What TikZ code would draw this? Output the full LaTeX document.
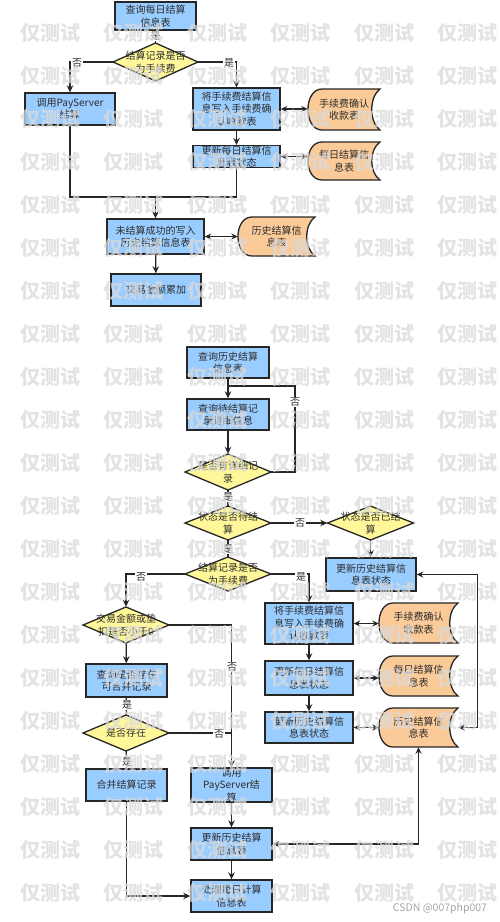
\documentclass[tikz,border=0pt]{standalone}
\usepackage{fontspec}
\setmainfont{Noto Sans CJK SC}
\usetikzlibrary{arrows.meta}
\definecolor{boxblue}{RGB}{153,204,255}
\definecolor{dyellow}{RGB}{255,247,153}
\definecolor{docorange}{RGB}{250,202,152}
\definecolor{edgec}{RGB}{38,38,38}
\definecolor{txt}{RGB}{45,45,45}
\definecolor{wmc}{RGB}{218,218,218}
\tikzset{
  proc/.style={draw=edgec, line width=1.4pt, fill=boxblue, inner sep=0pt, align=center, text=txt, font=\fontsize{10}{12.5}\selectfont},
  decline/.style={draw=edgec, line width=1.3pt, fill=dyellow},
  dectext/.style={inner sep=0pt, align=center, text=txt, font=\fontsize{10}{12.5}\selectfont},
  docline/.style={draw=edgec, line width=1.3pt, fill=docorange},
  doctext/.style={inner sep=0pt, align=center, text=txt, font=\fontsize{10}{12.5}\selectfont},
  conn/.style={draw=edgec, line width=1.3pt, -{Stealth[length=7pt,width=6.5pt]}},
  plain/.style={draw=edgec, line width=1.3pt},
  dbl/.style={draw=edgec, line width=1.3pt, {Stealth[length=6.5pt,width=6pt]}-{Stealth[length=6.5pt,width=6pt]}},
  lbl/.style={fill=white, inner sep=1pt, text=txt, font=\fontsize{10}{11}\selectfont},
  wmk/.style={text=wmc, text opacity=0.75, inner sep=0pt, font=\fontsize{20}{20}\selectfont\bfseries},
}
\newcommand\mkproc[6]{\node[proc, minimum width={#4-#2}, minimum height={#5-#3}] (#1) at ({(#2+#4)/2},{(#3+#5)/2}) {#6};}
\newcommand\mkdec[6]{%
  \filldraw[decline] ({#2},{#3-#5/2}) -- ({#2+#4/2},{#3}) -- ({#2},{#3+#5/2}) -- ({#2-#4/2},{#3}) -- cycle;
  \node[dectext, minimum width={#4}, minimum height={#5}] (#1) at ({#2},{#3}) {#6};}
\newcommand\mkdoc[6]{%
  \filldraw[docline] ({#2+14},{#3}) -- ({#4},{#3}) .. controls ({#4-11},{#3+(#5-#3)*0.2}) and ({#4-11},{#5-(#5-#3)*0.2}) .. ({#4},{#5}) -- ({#2+14},{#5}) .. controls ({#2-4.7},{#5}) and ({#2-4.7},{#3}) .. ({#2+14},{#3}) -- cycle;
  \node[doctext, minimum width={#4-#2}, minimum height={#5-#3}] (#1) at ({(#2+#4)/2},{(#3+#5)/2}) {#6};}
\begin{document}
\begin{tikzpicture}[x=1pt,y=-1pt]
\useasboundingbox (0,0) rectangle (500,922);
\fill[white] (0,0) rectangle (500,922);

% ---------- top flow ----------
\mkproc{b1}{115}{2}{196}{30}{查询每日结算\\信息表}
\mkdec{d1}{155.5}{62}{85}{38}{结算记录是否\\为手续费}
\mkproc{pay1}{25}{93}{115}{125}{调用PayServer\\结算}
\mkproc{p2}{193}{88}{280}{130}{将手续费结算信\\息写入手续费确\\认收款表}
\mkdoc{doc1}{308}{89}{380}{130}{手续费确认\\收款表}
\mkproc{p3}{193}{146}{280}{167}{更新每日结算信\\息表状态}
\mkdoc{doc2}{308}{142}{380}{180}{每日结算信\\息表}
\mkproc{p4}{107}{219}{204}{254}{未结算成功的写入\\历史结算信息表}
\mkdoc{doc3}{238}{217}{315}{256}{历史结算信\\息表}
\mkproc{p5}{111}{274}{201}{306}{交易金额累加}
\coordinate (m1) at (155.5,197);

\draw[plain] (b1) -- (d1);
\draw[conn] (d1.west) -| (pay1.north);
\draw[conn] (d1.east) -| (p2.north);
\draw[dbl] (p2.east) -- (p2.east -| doc1.west);
\draw[conn] (p2) -- (p3);
\draw[dbl] (p3.east) -- (p3.east -| doc2.west);
\draw[plain] (pay1.south) |- (m1);
\draw[plain] (p3.south) |- (m1);
\draw[conn] (m1) -- (p4.north);
\draw[dbl] (p4.east) -- (p4.east -| doc3.west);
\draw[conn] (p4) -- (p5);
\node[lbl] (l1) at (155.5,36) {是};
\node[lbl] (l2) at (77,63) {否};
\node[lbl] (l3) at (229,63) {是};

% ---------- bottom flow ----------
\mkproc{q1}{187}{347}{269}{378}{查询历史结算\\信息表}
\mkproc{q2}{187}{399}{269}{430}{查询待结算记\\录详细信息}
\mkdec{dq1}{228}{472}{86}{36}{是否有详细记\\录}
\mkdec{dq2}{228}{523}{86}{34}{状态是否待结\\算}
\mkdec{dq3}{370.5}{523}{86}{34}{状态是否已结\\算}
\mkproc{q3}{326}{558}{416}{591}{更新历史结算信\\息表状态}
\mkdec{dq4}{228}{574}{86}{34}{结算记录是否\\为手续费}
\mkdec{dq5}{126}{625}{86}{36}{交易金额或垫\\扣是否小于0}
\mkproc{q4}{86}{664}{167}{697}{查询是否存在\\可合并记录}
\mkdec{dq6}{126}{733}{86}{36}{是否存在}
\mkproc{q5}{86}{769}{167}{801}{合并结算记录}
\mkproc{q6}{191}{769}{272}{801}{调用\\PayServer结\\算}
\mkproc{q7}{191}{828}{272}{860}{更新历史结算\\信息表}
\mkproc{q8}{191}{880}{272}{912}{处理每日计算\\信息表}
\mkproc{q9}{265}{603}{353}{644}{将手续费结算信\\息写入手续费确\\认收款表}
\mkproc{q10}{265}{661}{353}{695}{更新每日结算信\\息表状态}
\mkproc{q11}{265}{712}{353}{743}{更新历史结算信\\息表状态}
\mkdoc{dc4}{379}{603}{458}{643}{手续费确认\\收款表}
\mkdoc{dc5}{379}{656}{458}{696}{每日结算信\\息表}
\mkdoc{dc6}{379}{708}{458}{747}{历史结算信\\息表}
\coordinate (lp) at (295,386);
\coordinate (j1) at (232,733);

\draw[conn] (q1) -- (q2);
\draw[conn] (q2) -- (dq1);
\draw[plain] (dq1.east) -| (lp) -- (lp -| q1.south);
\draw[plain] (dq1) -- (dq2);
\draw[conn] (dq2) -- (dq3);
\draw[conn] (dq3) -- (q3.north -| dq3.south);
\draw[plain] (dq2) -- (dq4);
\draw[conn] (dq4.west) -| (dq5.north);
\draw[conn] (dq4.east) -| (q9.north);
\draw[conn] (q9) -- (q10);
\draw[conn] (q10) -- (q11);
\draw[dbl] (q9.east) -- (q9.east -| dc4.west);
\draw[dbl] (q10.east) -- (q10.east -| dc5.west);
\draw[dbl] (q11.east) -- (q11.east -| dc6.west);
\draw[conn] (dq5) -- (q4);
\draw[plain] (q4) -- (dq6);
\draw[conn] (dq6) -- (q5);
\draw[conn] (dq5.east) -| (q6.north);
\draw[plain] (dq6.east) -- (j1);
\draw[conn] (q6) -- (q7);
\draw[conn] (q7) -- (q8);
\draw[conn] (q5.south) |- (q8.west);
\draw[dbl] (q7.east) -| (dc6.south);
\draw[dbl] (dc6.east) -- ++(19,0) |- (q3.east);

\node[lbl] (k1) at (295,402) {否};
\node[lbl] (k2) at (228,497) {是};
\node[lbl] (k3) at (300,523) {否};
\node[lbl] (k4) at (228,549) {是};
\node[lbl] (k5) at (141,577) {否};
\node[lbl] (k6) at (301,577) {是};
\node[lbl] (k7) at (232,667) {否};
\node[lbl] (k8) at (127,705) {是};
\node[lbl] (k9) at (219,734) {否};
\node[lbl] (k10) at (127,762) {是};

% ---------- watermark ----------
\foreach \r in {0,...,20}{
  \foreach \c in {0,...,5}{
    \node[wmk] (wm-\r-\c) at ({50+83.5*\c},{33+43*\r}) {仅测试};
  }
}
\node[text=gray!70, inner sep=0pt, font=\fontsize{10.5}{11}\selectfont] (csdn) at (440,909) {CSDN @007php007};
\end{tikzpicture}
\end{document}
